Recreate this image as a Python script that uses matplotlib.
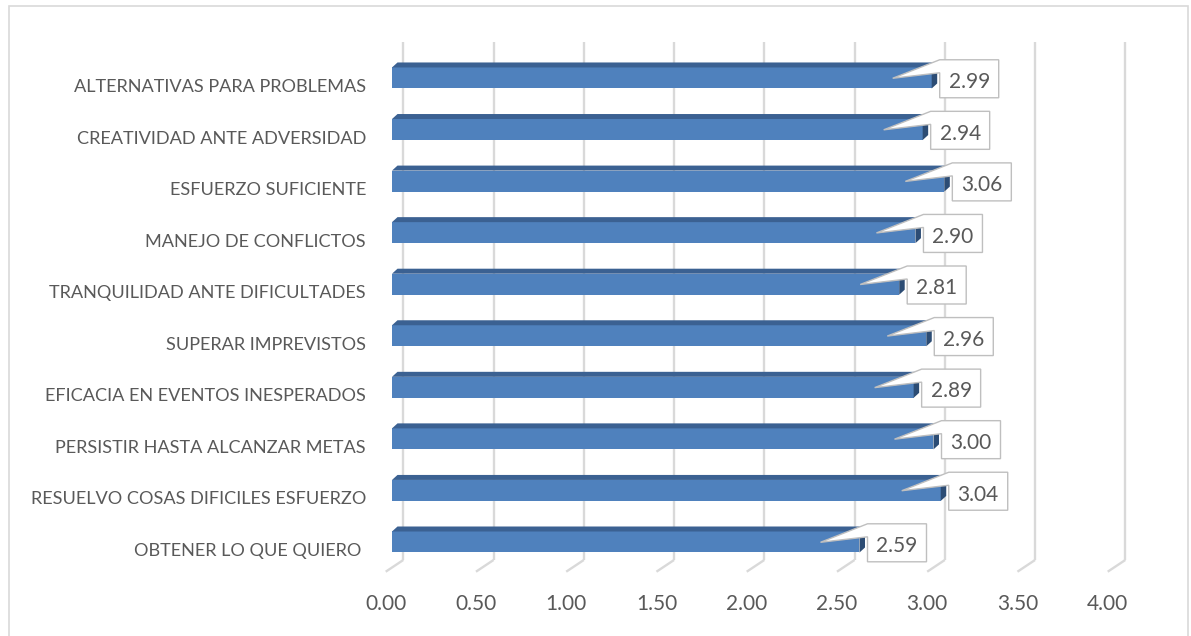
import numpy as np
import matplotlib.pyplot as plt
from matplotlib.patches import Polygon, Rectangle

# data, listed top to bottom as in the chart
categories = [
    "ALTERNATIVAS PARA PROBLEMAS",
    "CREATIVIDAD ANTE ADVERSIDAD",
    "ESFUERZO SUFICIENTE",
    "MANEJO DE CONFLICTOS",
    "TRANQUILIDAD ANTE DIFICULTADES",
    "SUPERAR IMPREVISTOS",
    "EFICACIA EN EVENTOS INESPERADOS",
    "PERSISTIR HASTA ALCANZAR METAS",
    "RESUELVO COSAS DIFICILES ESFUERZO",
    "OBTENER LO QUE QUIERO ",
]
values = [2.99, 2.94, 3.06, 2.90, 2.81, 2.96, 2.89, 3.00, 3.04, 2.59]
xticks = [0.0, 0.5, 1.0, 1.5, 2.0, 2.5, 3.0, 3.5, 4.0]

plt.rcParams['font.family'] = ['Lato', 'DejaVu Sans']

front_col = "#4f81bd"
top_col = "#3b6192"
side_col = "#2c4c74"
grid_col = "#d9d9d9"
text_col = "#595959"

W, H = 1191, 636
fig = plt.figure(figsize=(W / 100, H / 100), dpi=100)

# axes placed in pixel terms (bar plane of the 3d look)
ax_l, ax_r, ax_t, ax_b = 392, 1114, 46, 567.5
ax = fig.add_axes([ax_l / W, 1 - ax_b / H, (ax_r - ax_l) / W, (ax_b - ax_t) / H])
ymin, ymax = -0.4946, 9.62
ax.set_xlim(0, 4)
ax.set_ylim(ymin, ymax)
ax.axis('off')

ppx = (ax_r - ax_l) / 4.0
ppy = (ax_b - ax_t) / (ymax - ymin)


def off(x, y, dx=0.0, dy=0.0):
    # shift a data point by screen pixels (dy > 0 means down)
    return (x + dx / ppx, y - dy / ppy)


n = len(categories)
ypos = np.arange(n)[::-1]

# back wall gridlines + floor diagonals
bx, by = 11.3, -7.5
fx, fy = -6.3, 4.2
for t in xticks:
    p0 = off(t, ymin, bx, by)
    p1 = off(t, 9.552, bx, by)
    ax.plot([p0[0], p1[0]], [p0[1], p1[1]], color=grid_col, lw=1.7, zorder=1,
            clip_on=False, solid_capstyle='butt')
    p2 = off(t, ymin, fx, fy)
    ax.plot([p0[0], p2[0]], [p0[1], p2[1]], color=grid_col, lw=1.7, zorder=1,
            clip_on=False, solid_capstyle='butt')
    tx, ty = off(t, ymin, fx, 42.5)
    ax.text(tx, ty, f"{t:.2f}", ha='center', va='baseline', fontsize=15,
            color=text_col, clip_on=False)

# bars with a shallow top and side face
bh = 21 / ppy
ddx, ddy = 5.5, -5.0
ax.barh(ypos, values, height=bh, color=front_col, zorder=3)
for y, v in zip(ypos, values):
    top = y + bh / 2
    bot = y - bh / 2
    ax.add_patch(Polygon([(0, top), (v, top), off(v, top, ddx, ddy), off(0, top, ddx, ddy)],
                         closed=True, fc=top_col, ec='none', zorder=3))
    ax.add_patch(Polygon([(v, bot), (v, top), off(v, top, ddx, ddy), off(v, bot, ddx, ddy)],
                         closed=True, fc=side_col, ec='none', zorder=3))

# category labels
for y, c in zip(ypos, categories):
    lx, ly = off(0, y, -26, 14)
    ax.text(lx, ly, c, ha='right', va='baseline', fontsize=13.1, color=text_col,
            clip_on=False)

# value callouts
bw, bhh = 59, 38
for y, v in zip(ypos, values):
    left = off(v, y, 8, 0)[0]
    right = off(v, y, 8 + bw, 0)[0]
    ytop = off(v, y, 0, 0.8 - bhh / 2)[1]
    ybot = off(v, y, 0, 0.8 + bhh / 2)[1]
    ynot = off(v, y, 0, 0.8 - bhh / 2 + 13)[1]
    tip = off(v, y, -39, 0.3)
    shape = [tip, (left, ynot), (left, ybot), (right, ybot), (right, ytop), (left, ytop)]
    ax.add_patch(Polygon(shape, closed=True, fc='white', ec='#bfbfbf', lw=1.0,
                         zorder=5, clip_on=False))
    tx, ty = off(v, y, 8 + bw / 2, 0.8 + 9.3)
    ax.text(tx, ty, f"{v:.2f}", ha='center', va='baseline', fontsize=15,
            color=text_col, zorder=6, clip_on=False)

# outer chart border
fig.add_artist(Rectangle((9 / W, -0.02), (1188 - 9) / W, 1 - 5.5 / H + 0.02,
                         transform=fig.transFigure, fill=False, ec='#d9d9d9', lw=1.2))

fig.savefig("out.png", dpi=100)
